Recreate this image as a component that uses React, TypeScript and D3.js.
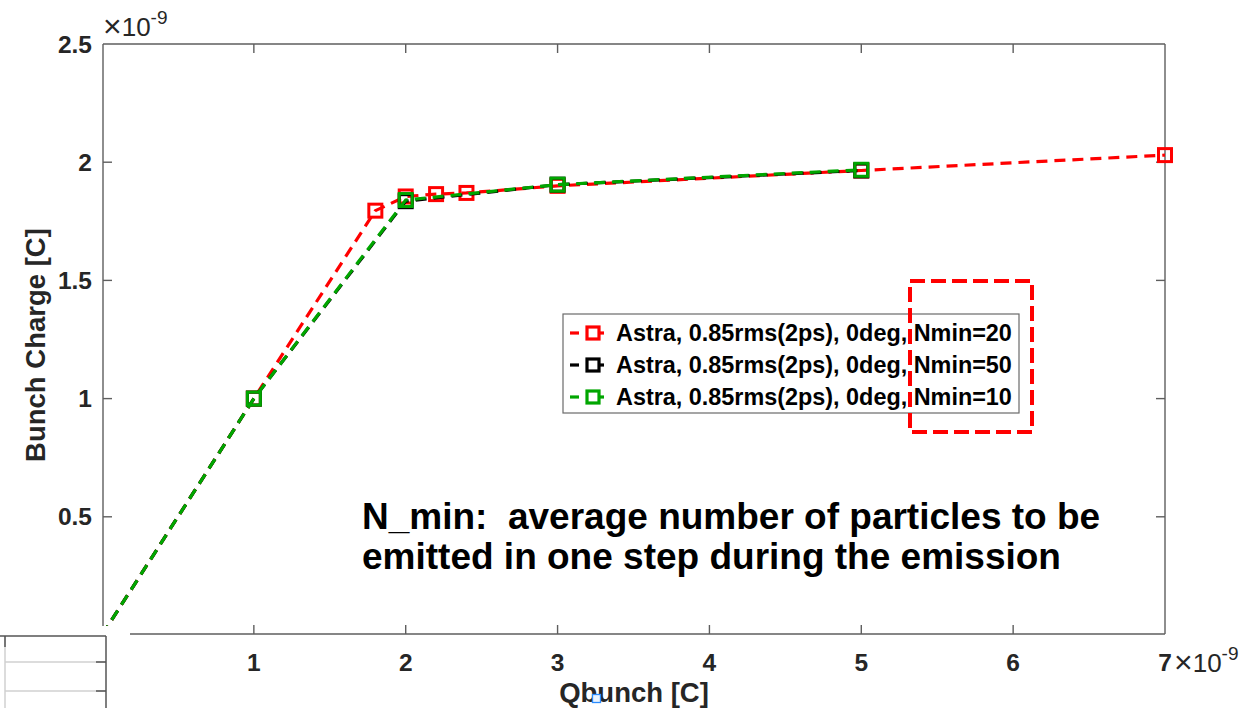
import React from "react";
import * as d3 from "d3";

const xTicks = [1, 2, 3, 4, 5, 6, 7];
const yTicks = [0.5, 1, 1.5, 2, 2.5];

const redX = [0, 1, 1.8, 2, 2.2, 2.4, 3, 5, 7];
const redY = [0, 1.0, 1.795, 1.855, 1.865, 1.87, 1.9, 1.965, 2.03];
const blackX = [0, 1, 2, 3, 5];
const blackY = [0, 1.0, 1.835, 1.905, 1.965];
const greenX = [0, 1, 2, 3, 5];
const greenY = [0, 1.0, 1.84, 1.905, 1.968];

const seriesNames = [
  "Astra, 0.85rms(2ps), 0deg, Nmin=20",
  "Astra, 0.85rms(2ps), 0deg, Nmin=50",
  "Astra, 0.85rms(2ps), 0deg, Nmin=10",
];
const seriesColors = ["#ff0000", "#000000", "#00a600"];

const annotationLines = [
  "N_min:  average number of particles to be",
  "emitted in one step during the emission",
];

const W = 1246;
const H = 708;
const L = 103, R = 1165, T = 44, B = 634;

export default function App() {
  const x = d3.scaleLinear().domain([0, 7]).range([102, 1165]);
  const y = d3.scaleLinear().domain([0, 2.5]).range([635, 44]);
  const line = d3
    .line<[number, number]>()
    .x((d) => x(d[0]))
    .y((d) => y(d[1]));

  const series = [
    { xs: redX, ys: redY },
    { xs: blackX, ys: blackY },
    { xs: greenX, ys: greenY },
  ].map((s, i) => ({
    pts: s.xs.map((v, j) => [v, s.ys[j]] as [number, number]),
    color: seriesColors[i],
    name: seriesNames[i],
  }));

  const axisColor = "#5e5e5e";
  const textColor = "#262626";
  const font = "Liberation Sans, Arial, Helvetica, sans-serif";
  const ms = 13;
  const msw = 3;

  const expLabel = (xx: number, yy: number) => (
    <text x={xx} y={yy} fill={textColor} fontSize={26}>
      <tspan fontSize={32} dy={1}>×</tspan>
      <tspan dy={-1}>10</tspan>
      <tspan dy={-12} fontSize={19}>-9</tspan>
    </text>
  );

  return (
    <svg
      width={W}
      height={H}
      style={{ position: "absolute", left: 0, top: 0, display: "block", background: "#fff" }}
      fontFamily={font}
    >
      <defs>
        <clipPath id="plotclip">
          <rect x={L} y={T} width={R - L} height={B - T} />
        </clipPath>
      </defs>
      <rect x={0} y={0} width={W} height={H} fill="#fff" />

      {/* axes box */}
      <g stroke={axisColor} strokeWidth={1.4} fill="none">
        <line x1={L} y1={T} x2={R} y2={T} />
        <line x1={R} y1={T} x2={R} y2={B} />
        <line x1={L} y1={T} x2={L} y2={B} />
        <line x1={L} y1={B} x2={R} y2={B} />
        {xTicks.slice(0, 6).map((t) => (
          <g key={"xt" + t}>
            <line x1={x(t)} y1={B} x2={x(t)} y2={B - 9} />
            <line x1={x(t)} y1={T} x2={x(t)} y2={T + 9} />
          </g>
        ))}
        {yTicks.slice(0, 4).map((t) => (
          <g key={"yt" + t}>
            <line x1={L} y1={y(t)} x2={L + 9} y2={y(t)} />
            <line x1={R} y1={y(t)} x2={R - 9} y2={y(t)} />
          </g>
        ))}
      </g>

      {/* tick labels */}
      <g fill={textColor} fontWeight="bold" fontSize={24.5}>
        {xTicks.map((t) => (
          <text key={"xl" + t} x={x(t)} y={671} textAnchor="middle">
            {t}
          </text>
        ))}
        {yTicks.map((t) => (
          <text key={"yl" + t} x={92} y={y(t) + 8.5} textAnchor="end">
            {t}
          </text>
        ))}
      </g>
      {expLabel(103, 36)}
      {expLabel(1174, 672)}

      {/* axis labels */}
      <text
        transform="translate(45,345) rotate(-90)"
        textAnchor="middle"
        fill={textColor}
        fontWeight="bold"
        fontSize={27.5}
      >
        Bunch Charge [C]
      </text>
      <text x={634} y={702} textAnchor="middle" fill={textColor} fontWeight="bold" fontSize={27.5}>
        Qbunch [C]
      </text>

      {/* data */}
      {series.map((s, i) => (
        <g key={"s" + i}>
          <path
            d={line(s.pts) || ""}
            fill="none"
            stroke={s.color}
            strokeWidth={3.2}
            strokeDasharray="11,7"
            clipPath="url(#plotclip)"
          />
          {s.pts.map((p, j) => (
            <rect
              key={j}
              x={x(p[0]) - ms / 2}
              y={y(p[1]) - ms / 2}
              width={ms}
              height={ms}
              fill="none"
              stroke={s.color}
              strokeWidth={msw}
            />
          ))}
        </g>
      ))}

      {/* legend */}
      <rect x={563} y={314} width={456} height={99} fill="#fff" stroke="#6a6a6a" strokeWidth={1.2} />
      {series.map((s, i) => {
        const cy = 333 + i * 32;
        return (
          <g key={"lg" + i}>
            <line x1={570} y1={cy} x2={579} y2={cy} stroke={s.color} strokeWidth={3.2} />
            <line x1={599} y1={cy} x2={604} y2={cy} stroke={s.color} strokeWidth={3.2} />
            <rect x={593 - 6} y={cy - 6} width={12} height={12} fill="none" stroke={s.color} strokeWidth={3.2} />
            <text x={616} y={cy + 8} fill="#000" fontWeight="bold" fontSize={23.4}>
              {s.name}
            </text>
          </g>
        );
      })}

      {/* red dashed highlight box */}
      <rect
        x={910}
        y={281}
        width={122}
        height={151}
        fill="none"
        stroke="#ff0000"
        strokeWidth={4}
        strokeDasharray="15,6"
      />

      {/* annotation */}
      <g fill="#000" fontWeight="bold" fontSize={37}>
        {annotationLines.map((t, i) => (
          <text key={"an" + i} x={362} y={529 + i * 40} xmlSpace="preserve" style={{ whiteSpace: "pre" }}>
            {t}
          </text>
        ))}
      </g>

      {/* bottom-left cover and artifact */}
      <rect x={0} y={626} width={130} height={82} fill="#fff" />
      <g fill="none">
        <line x1={5} y1={636} x2={5} y2={708} stroke="#d0d0d0" strokeWidth={1.5} />
        <line x1={5} y1={662} x2={106} y2={662} stroke="#d0d0d0" strokeWidth={1.5} />
        <line x1={5} y1={691} x2={106} y2={691} stroke="#d0d0d0" strokeWidth={1.5} />
        <line x1={0} y1={636} x2={106} y2={636} stroke="#555" strokeWidth={1.5} />
        <line x1={106} y1={636} x2={106} y2={708} stroke="#555" strokeWidth={1.5} />
        <line x1={5} y1={636} x2={5} y2={647} stroke="#555" strokeWidth={1.5} />
        <line x1={96} y1={662} x2={106} y2={662} stroke="#555" strokeWidth={1.5} />
        <line x1={96} y1={691} x2={106} y2={691} stroke="#555" strokeWidth={1.5} />
      </g>

      {/* selection handle artifact */}
      <rect x={592.5} y={694.5} width={8} height={8} fill="#eaf4ff" stroke="#2a8cff" strokeWidth={1.3} />
    </svg>
  );
}
